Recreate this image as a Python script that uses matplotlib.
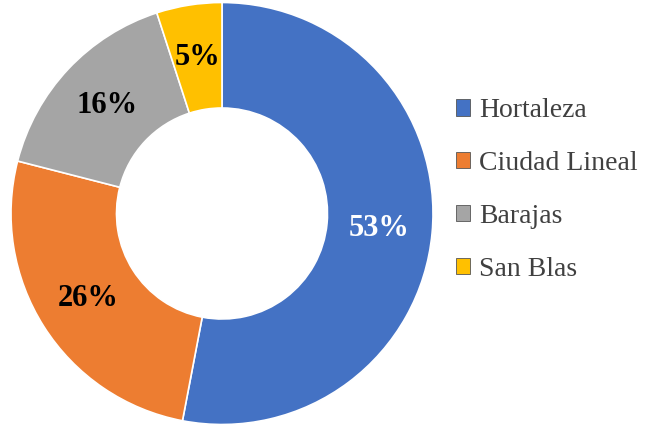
import matplotlib.pyplot as plt

districts = ["Hortaleza", "Ciudad Lineal", "Barajas", "San Blas"]
shares = [53, 26, 16, 5]
colors = ["#4472C4", "#ED7D31", "#A5A5A5", "#FFC000"]
label_colors = ["white", "black", "black", "black"]

plt.rcParams['font.family'] = ['Liberation Serif', 'DejaVu Serif']

fig = plt.figure(figsize=(6.47, 4.26), dpi=100)
ax = fig.add_axes([11 / 647, 1.5 / 426, 422 / 647, 422 / 426])

wedges, texts, autotexts = ax.pie(
    shares, colors=colors, startangle=90, counterclock=False,
    radius=1, autopct='%1.0f%%', pctdistance=0.75,
    wedgeprops=dict(width=0.5, edgecolor='white', linewidth=1.2),
    textprops=dict(fontsize=22, fontweight='bold'))
for t, c in zip(autotexts, label_colors):
    t.set_color(c)
ax.set_xlim(-1, 1)
ax.set_ylim(-1, 1)
ax.set_aspect('equal')

leg = fig.legend(wedges, districts, loc='center left',
                 bbox_to_anchor=(456 / 647, 236 / 426), frameon=False,
                 fontsize=20, handlelength=0.52, handleheight=0.52,
                 handletextpad=0.3, labelspacing=1.0,
                 borderpad=0, borderaxespad=0)
for h in leg.legend_handles:
    h.set_edgecolor('#555555')
    h.set_linewidth(0.6)
for t in leg.get_texts():
    t.set_color('#404040')

fig.savefig('out.png', dpi=100)
